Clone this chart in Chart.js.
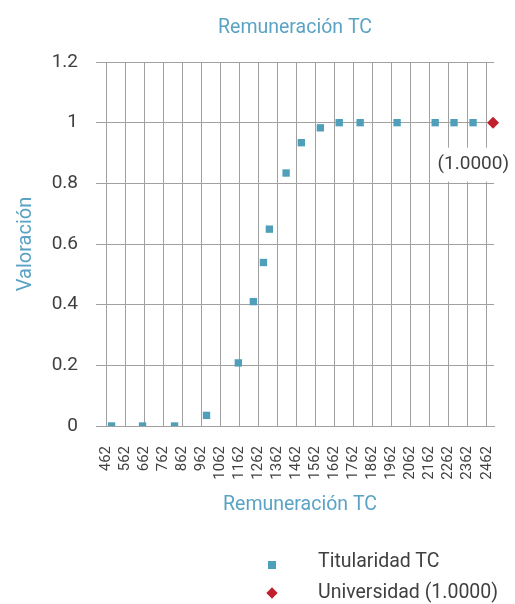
<!DOCTYPE html>
<html><head><meta charset="utf-8">
<script src="https://cdn.jsdelivr.net/npm/chart.js@4"></script>
<style>
html,body{margin:0;padding:0;background:#fff;}
#wrap{position:relative;width:515px;height:604px;overflow:hidden;}
#c{position:absolute;left:0;top:0;}
.lg-text{position:absolute;left:318px;font-family:Roboto,sans-serif;font-size:19.5px;color:#404040;line-height:20px;white-space:nowrap;}
.lg-sq{position:absolute;width:8px;height:8px;background:#4f9fbb;}
.lg-dia{position:absolute;width:8px;height:8px;background:#c0202e;transform:rotate(45deg);}
</style></head><body>
<div id="wrap">
<canvas id="c" width="515" height="604"></canvas>
<div class="lg-sq" style="left:268px;top:561px;"></div>
<div class="lg-text" style="top:551px;">Titularidad TC</div>
<div class="lg-dia" style="left:268px;top:589px;"></div>
<div class="lg-text" style="top:582px;">Universidad (1.0000)</div>
</div>
<script>
const chartTitle = 'Remuneración TC';
const xTickLabels = [462,562,662,762,862,962,1062,1162,1262,1362,1462,1562,1662,1762,1862,1962,2062,2162,2262,2362,2462];
const yTickLabels = [0,0.2,0.4,0.6,0.8,1,1.2];
const titularidadX = [491,654,822,990,1157,1236,1289,1320,1408,1488,1588,1687,1797,1991,2191,2290,2390];
const titularidadY = [0,0,0,0.035,0.208,0.41,0.539,0.649,0.834,0.934,0.983,1,1,1,1,1,1];
const universidadX = [2495];
const universidadY = [1];
const universidadLabels = ['(1.0000)'];

const TEAL = '#5ba3c4';
const TXT = '#404040';
const GRID = '#a0a0a0';
const FONT = 'Roboto';

const titlePlugin = {
  id: 'centeredTitle',
  afterDraw(chart) {
    const ctx = chart.ctx, a = chart.chartArea;
    ctx.save();
    ctx.font = '19.5px ' + FONT;
    ctx.fillStyle = TEAL;
    ctx.textAlign = 'center';
    ctx.textBaseline = 'alphabetic';
    ctx.fillText(chartTitle, (a.left + a.right) / 2 - 5, 33);
    ctx.restore();
  }
};

const labelPlugin = {
  id: 'pointLabels',
  afterDatasetsDraw(chart) {
    const meta = chart.getDatasetMeta(1);
    const ctx = chart.ctx;
    meta.data.forEach((pt, i) => {
      const text = universidadLabels[i];
      ctx.save();
      ctx.font = '19px ' + FONT;
      ctx.textAlign = 'right';
      ctx.textBaseline = 'middle';
      const w = ctx.measureText(text).width;
      const x = pt.x + 16, y = pt.y + 42;
      ctx.fillStyle = '#ffffff';
      ctx.fillRect(x - w + 8, y - 17, w - 28, 34);
      ctx.fillStyle = TXT;
      ctx.fillText(text, x, y);
      ctx.restore();
    });
  }
};

new Chart(document.getElementById('c'), {
  type: 'scatter',
  data: {
    datasets: [
      {
        label: 'Titularidad TC',
        data: titularidadX.map((x, i) => ({x: x, y: titularidadY[i]})),
        pointStyle: 'rect', pointRadius: 5.2, pointHoverRadius: 5.2,
        backgroundColor: '#4f9fbb', borderColor: '#4f9fbb', borderWidth: 0
      },
      {
        label: 'Universidad (1.0000)',
        data: universidadX.map((x, i) => ({x: x, y: universidadY[i]})),
        pointStyle: 'rectRot', pointRadius: 6, pointHoverRadius: 6,
        backgroundColor: '#c0202e', borderColor: '#c0202e', borderWidth: 0,
        clip: false
      }
    ]
  },
  options: {
    responsive: false,
    animation: false,
    layout: {padding: {left: 4, right: 21, top: 62, bottom: 87}},
    plugins: {
      legend: {display: false},
      tooltip: {enabled: false},
      title: {display: false}
    },
    scales: {
      x: {
        type: 'linear', min: 462, max: 2500,
        afterBuildTicks: s => { s.ticks = xTickLabels.map(v => ({value: v})); },
        afterFit: s => { s.height = 91; s.paddingLeft = 0; s.paddingRight = 0; },
        ticks: {
          autoSkip: false, maxRotation: 90, minRotation: 90, padding: 20,
          color: TXT, font: {family: FONT, size: 15},
          callback: v => String(v)
        },
        grid: {color: GRID, drawTicks: false, lineWidth: 1},
        border: {color: GRID},
        title: {
          display: true, text: 'Remuneración TC', color: TEAL,
          font: {family: FONT, size: 19.5}, padding: {top: 0, bottom: 0}
        }
      },
      y: {
        min: 0, max: 1.2,
        afterBuildTicks: s => { s.ticks = yTickLabels.map(v => ({value: v})); },
        afterFit: s => { s.width = 102; s.paddingTop = 0; s.paddingBottom = 0; },
        ticks: {
          padding: 18, color: TXT, font: {family: FONT, size: 19},
          callback: v => String(v)
        },
        grid: {color: GRID, tickLength: 10, lineWidth: 1},
        border: {color: GRID},
        title: {
          display: true, text: 'Valoración', color: TEAL,
          font: {family: FONT, size: 20}, padding: {top: 10, bottom: 0}
        }
      }
    }
  },
  plugins: [titlePlugin, labelPlugin]
});
</script>
</body></html>
